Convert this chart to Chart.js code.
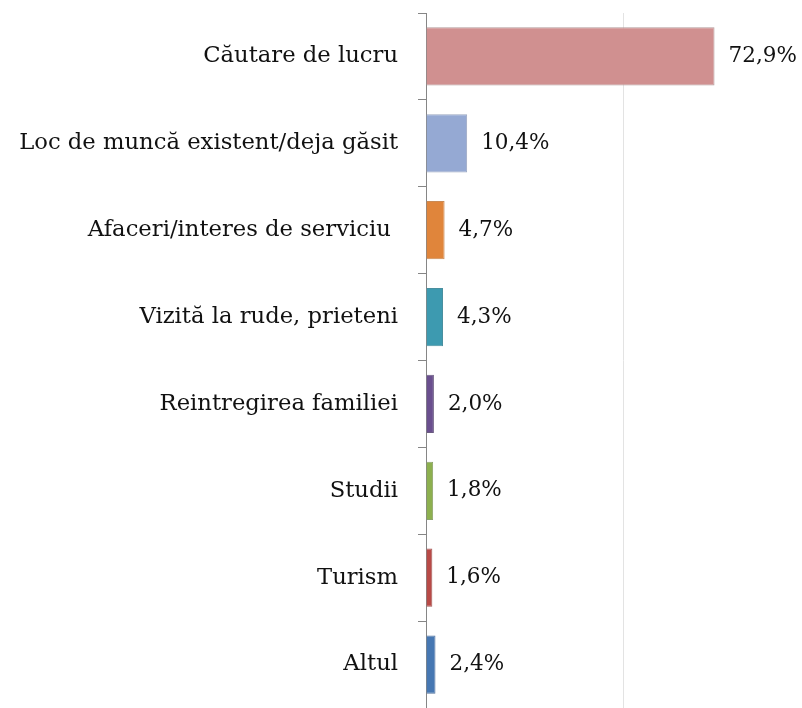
<!DOCTYPE html>
<html lang="ro">
<head>
    <meta charset="UTF-8">
    <title>Motive</title>
    <style>
        body, html {
            margin: 0;
            padding: 0;
            background: #fff;
        }
        .chart-container {
            width: 802px;
            height: 708px;
        }
    </style>
    <script src="https://cdn.jsdelivr.net/npm/chart.js"></script>
</head>
<body>
    <div class="chart-container">
        <canvas id="motiveChart"></canvas>
    </div>
    <script>
        const categories = [
            'Căutare de lucru',
            'Loc de muncă existent/deja găsit',
            'Afaceri/interes de serviciu ',
            'Vizită la rude, prieteni',
            'Reintregirea familiei',
            'Studii',
            'Turism',
            'Altul'
        ];
        const values = [72.9, 10.4, 4.7, 4.3, 2.0, 1.8, 1.6, 2.4];
        const barColors = ['#d09090', '#95a9d3', '#e0853b', '#3d9ab0', '#6a4f8e', '#8db04f', '#b84a47', '#4677b2'];
        const borderColors = ['#b49a9a', '#9aa6c0', '#c98a55', '#4a8f9f', '#6a5a80', '#8ca36a', '#a45a58', '#52729c'];

        const fontFamily = '"DejaVu Serif", serif';

        // percent labels right of each bar
        const valueLabels = {
            id: 'valueLabels',
            afterDatasetsDraw(chart) {
                const ctx = chart.ctx;
                const meta = chart.getDatasetMeta(0);
                ctx.save();
                ctx.font = '21.5px ' + fontFamily;
                ctx.fillStyle = '#111';
                ctx.textBaseline = 'middle';
                ctx.textAlign = 'left';
                meta.data.forEach((bar, i) => {
                    const txt = values[i].toFixed(1).replace('.', ',') + '%';
                    ctx.fillText(txt, bar.x + 14, bar.y);
                });
                ctx.restore();
            }
        };

        const ctx = document.getElementById('motiveChart').getContext('2d');
        new Chart(ctx, {
            type: 'bar',
            data: {
                labels: categories,
                datasets: [{
                    data: values,
                    backgroundColor: barColors,
                    borderColor: borderColors,
                    borderWidth: 1,
                    barPercentage: 0.67,
                    categoryPercentage: 1
                }]
            },
            options: {
                indexAxis: 'y',
                responsive: true,
                maintainAspectRatio: false,
                animation: false,
                layout: { padding: { top: 13, right: 0, bottom: 0, left: 0 } },
                plugins: {
                    legend: { display: false },
                    tooltip: { enabled: false }
                },
                scales: {
                    x: {
                        min: 0,
                        max: 95,
                        ticks: { display: false, stepSize: 50 },
                        grid: { color: '#e3e3e3', drawTicks: false, lineWidth: 1 },
                        border: { display: false },
                        afterFit(scale) { scale.height = 0; }
                    },
                    y: {
                        grid: {
                            drawOnChartArea: false,
                            offset: true,
                            tickLength: 8,
                            color: '#868686'
                        },
                        border: { color: '#868686', width: 1 },
                        ticks: {
                            color: '#111',
                            padding: 20,
                            font: { family: fontFamily, size: 22.7 }
                        },
                        afterFit(scale) {
                            scale.width = 426;
                            scale.paddingTop = 0;
                            scale.paddingBottom = 0;
                        }
                    }
                }
            },
            plugins: [valueLabels]
        });
    </script>
</body>
</html>
